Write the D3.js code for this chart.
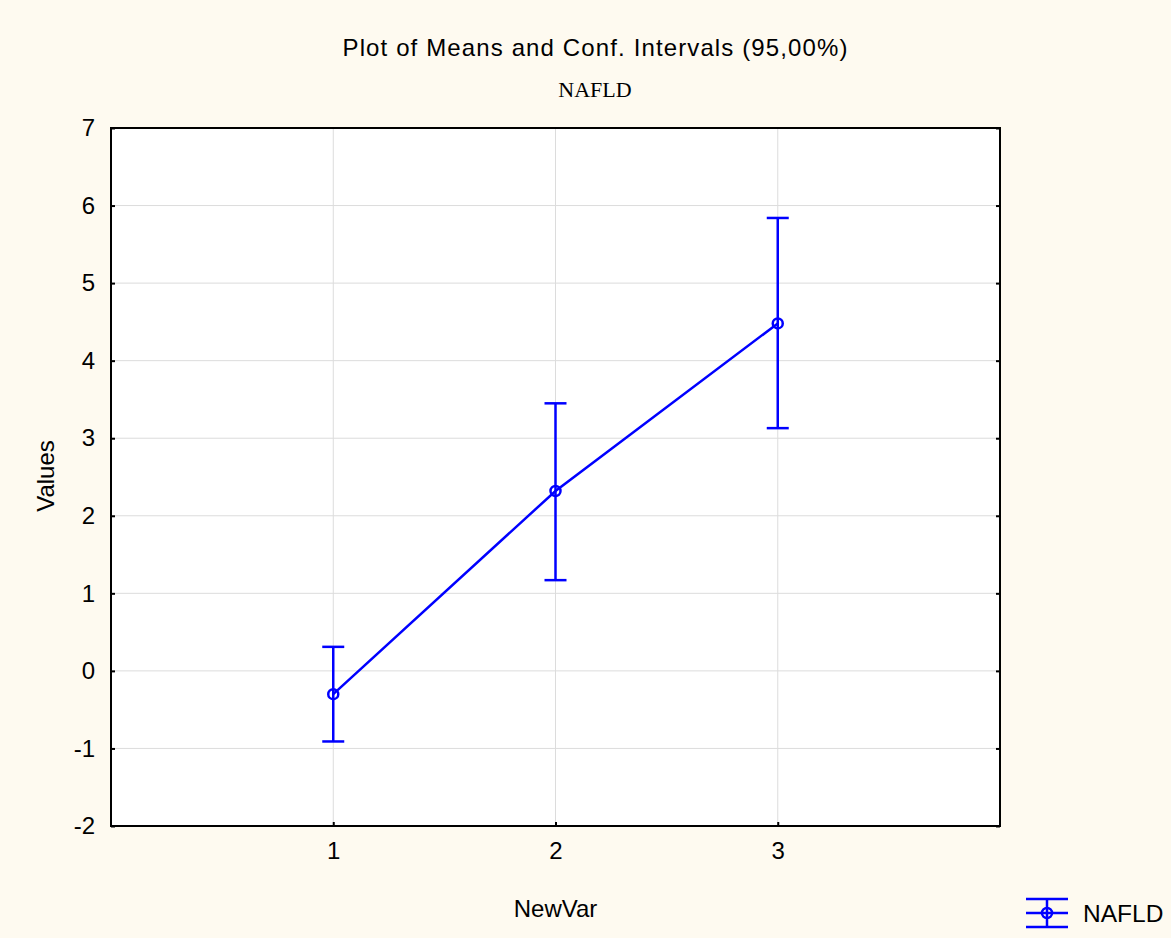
<!DOCTYPE html>
<html>
<head>
<meta charset="utf-8">
<script src="https://cdn.jsdelivr.net/npm/d3@7"></script>
<style>
  body { margin: 0; background: #fefaf0; }
  text { font-family: "Liberation Sans", Arial, sans-serif; }
</style>
</head>
<body>
<svg id="chart" width="1171" height="938"></svg>
<script>
// data
var categories = [1, 2, 3];
var means = [-0.30, 2.32, 4.48];
var upper = [0.31, 3.45, 5.84];
var lower = [-0.91, 1.17, 3.13];
var yTicks = [-2, -1, 0, 1, 2, 3, 4, 5, 6, 7];

var svg = d3.select('#chart');
var plotL = 111, plotR = 1000, plotT = 128, plotB = 826;
var fmt = function(d) { return String(d); };

svg.append('rect')
    .attr('width', 1171).attr('height', 938)
    .attr('fill', '#fefaf0');

var x = d3.scaleLinear().domain([0, 4]).range([plotL, plotR]);
var y = d3.scaleLinear().domain([-2, 7]).range([plotB, plotT]);

svg.append('rect')
    .attr('x', plotL).attr('y', plotT)
    .attr('width', plotR - plotL).attr('height', plotB - plotT)
    .attr('fill', '#fff');

// grid
svg.append('g').selectAll('line')
    .data(yTicks.slice(1, -1))
    .enter().append('line')
    .attr('x1', plotL).attr('x2', plotR)
    .attr('y1', function(d) { return y(d); })
    .attr('y2', function(d) { return y(d); })
    .attr('stroke', '#dcdcdc').attr('stroke-width', 1);
svg.append('g').selectAll('line')
    .data(categories)
    .enter().append('line')
    .attr('y1', plotT).attr('y2', plotB)
    .attr('x1', function(d) { return x(d); })
    .attr('x2', function(d) { return x(d); })
    .attr('stroke', '#dcdcdc').attr('stroke-width', 1);

// axes
var yAxis = d3.axisLeft(y).tickValues(yTicks).tickSize(-4).tickPadding(16).tickFormat(fmt);
var gy = svg.append('g').attr('transform', 'translate(' + plotL + ',0)').call(yAxis);
var yAxisR = d3.axisRight(y).tickValues(yTicks).tickSize(-4).tickFormat('');
var gyr = svg.append('g').attr('transform', 'translate(' + plotR + ',0)').call(yAxisR);
var xAxis = d3.axisBottom(x).tickValues(categories).tickSize(-4).tickPadding(16).tickFormat(fmt);
var gx = svg.append('g').attr('transform', 'translate(0,' + plotB + ')').call(xAxis);

[gy, gyr, gx].forEach(function(g) {
    g.select('.domain').remove();
    g.selectAll('.tick line').attr('stroke', '#000').attr('stroke-width', 2);
    g.selectAll('.tick text').attr('font-size', 24).attr('fill', '#000')
        .attr('font-family', '"Liberation Sans", Arial, sans-serif');
});

svg.append('rect')
    .attr('x', plotL).attr('y', plotT)
    .attr('width', plotR - plotL).attr('height', plotB - plotT)
    .attr('fill', 'none').attr('stroke', '#000').attr('stroke-width', 2);

// series
var pts = categories.map(function(c, i) {
    return { c: c, m: means[i], hi: upper[i], lo: lower[i] };
});
var blue = '#0000ff';
var sw = 2.5;
var line = d3.line()
    .x(function(d) { return x(d.c); })
    .y(function(d) { return y(d.m); });
svg.append('path').datum(pts)
    .attr('d', line)
    .attr('fill', 'none').attr('stroke', blue).attr('stroke-width', sw);

var bars = svg.append('g').selectAll('g').data(pts).enter().append('g');
bars.append('line')
    .attr('x1', function(d) { return x(d.c); }).attr('x2', function(d) { return x(d.c); })
    .attr('y1', function(d) { return y(d.hi); }).attr('y2', function(d) { return y(d.lo); })
    .attr('stroke', blue).attr('stroke-width', sw);
bars.append('line')
    .attr('x1', function(d) { return x(d.c) - 11; }).attr('x2', function(d) { return x(d.c) + 11; })
    .attr('y1', function(d) { return y(d.hi); }).attr('y2', function(d) { return y(d.hi); })
    .attr('stroke', blue).attr('stroke-width', sw);
bars.append('line')
    .attr('x1', function(d) { return x(d.c) - 11; }).attr('x2', function(d) { return x(d.c) + 11; })
    .attr('y1', function(d) { return y(d.lo); }).attr('y2', function(d) { return y(d.lo); })
    .attr('stroke', blue).attr('stroke-width', sw);
bars.append('circle')
    .attr('cx', function(d) { return x(d.c); })
    .attr('cy', function(d) { return y(d.m); })
    .attr('r', 5)
    .attr('fill', 'none').attr('stroke', blue).attr('stroke-width', sw);

// titles
svg.append('text').attr('x', 595).attr('y', 56)
    .attr('text-anchor', 'middle').attr('font-size', 24).attr('fill', '#000')
    .attr('textLength', 505).attr('lengthAdjust', 'spacing')
    .text('Plot of Means and Conf. Intervals (95,00%)');
svg.append('text').attr('x', 595).attr('y', 97)
    .attr('text-anchor', 'middle').attr('font-size', 22).attr('fill', '#000')
    .style('font-family', '"Liberation Serif", "Times New Roman", serif')
    .text('NAFLD');
svg.append('text').attr('x', x(2)).attr('y', 917)
    .attr('text-anchor', 'middle').attr('font-size', 24).attr('fill', '#000')
    .text('NewVar');
svg.append('text')
    .attr('transform', 'translate(54,476) rotate(-90)')
    .attr('text-anchor', 'middle').attr('font-size', 24).attr('fill', '#000')
    .text('Values');

// legend
var lg = svg.append('g').attr('transform', 'translate(1047,913)');
[-14, 0, 14].forEach(function(dy) {
    lg.append('line').attr('x1', -21).attr('x2', 21).attr('y1', dy).attr('y2', dy)
        .attr('stroke', blue).attr('stroke-width', sw);
});
lg.append('line').attr('x1', 0).attr('x2', 0).attr('y1', -14).attr('y2', 14)
    .attr('stroke', blue).attr('stroke-width', sw);
lg.append('circle').attr('r', 5).attr('fill', 'none')
    .attr('stroke', blue).attr('stroke-width', sw);
svg.append('text').attr('x', 1083).attr('y', 922)
    .attr('font-size', 24.5).attr('fill', '#000')
    .text('NAFLD');
</script>
</body>
</html>
